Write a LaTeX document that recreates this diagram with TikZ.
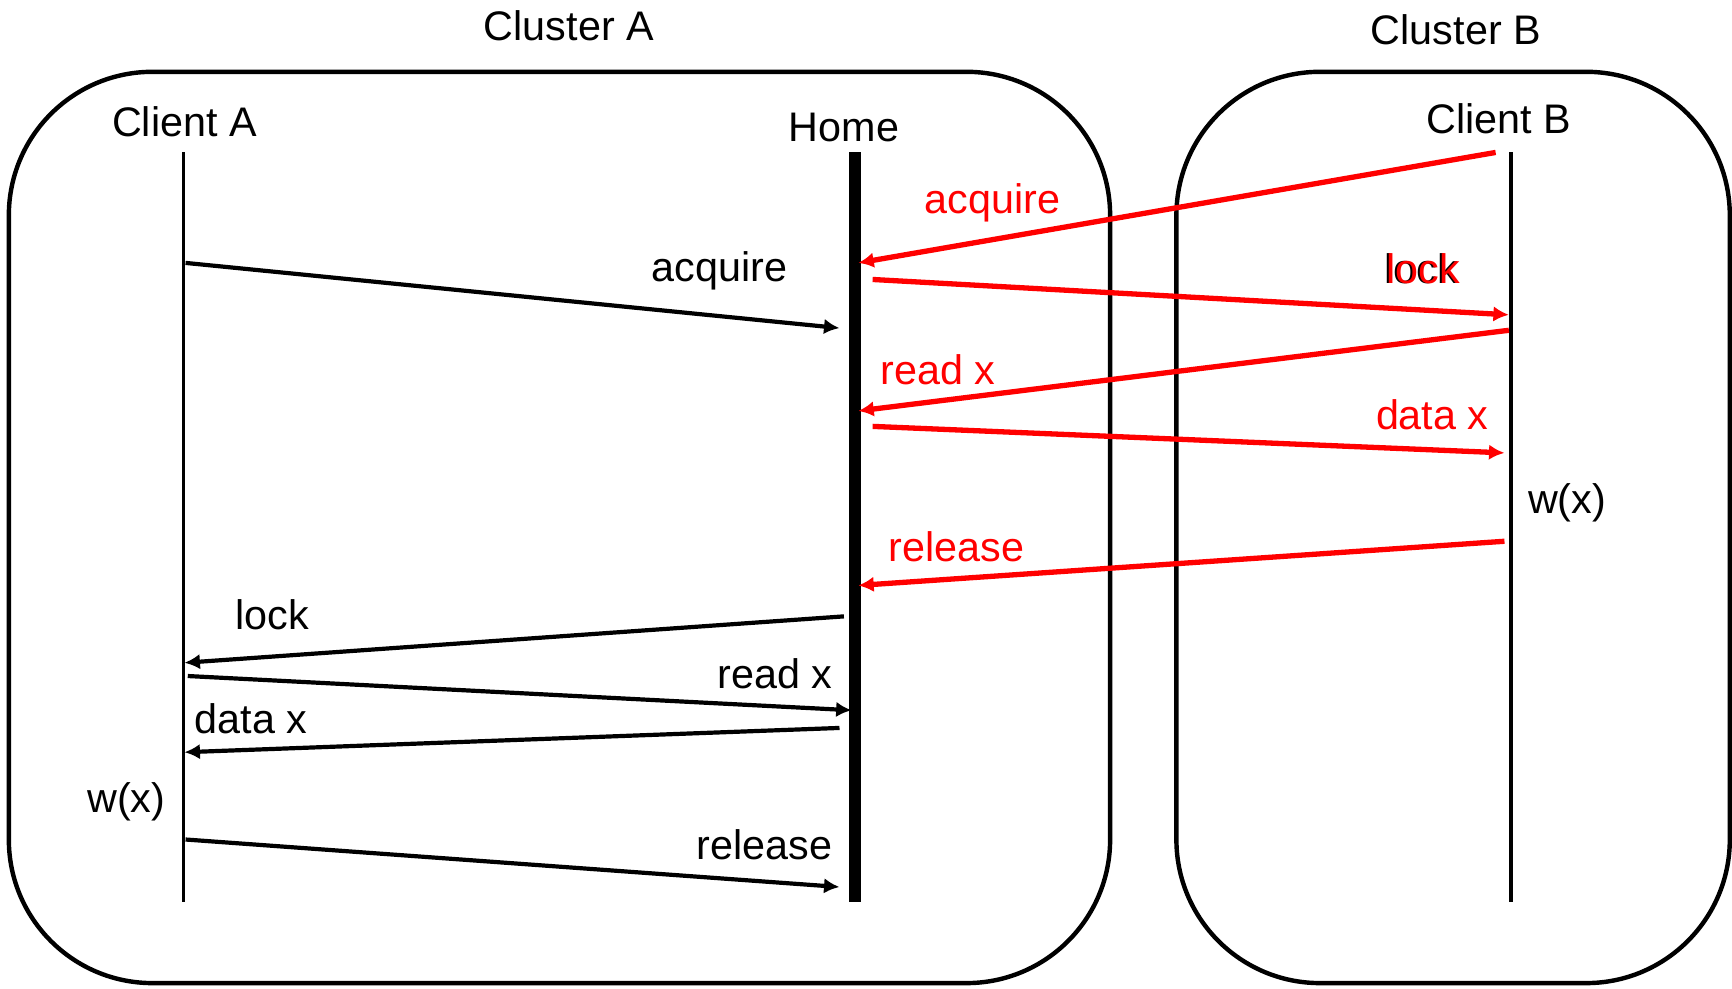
\documentclass[tikz,border=0pt]{standalone}
\usepackage{fontspec}
\setmainfont{Liberation Sans}
\usetikzlibrary{positioning,arrows.meta}

\begin{document}
\begin{tikzpicture}[x=0.5pt, y=-0.5pt, every node/.style={font=\fontsize{18.7}{22}\selectfont, inner sep=0pt}]
\tikzset{
  cluster/.style={draw, line width=2pt, rounded corners=65pt},
  lifeline/.style={line width=1.5pt},
  homeline/.style={line width=5.5pt},
  msg/.style={-{Latex[length=7pt,width=7pt]}, line width=1.9pt},
  redmsg/.style={msg, red, line width=2.4pt},
  redlbl/.style={text=red}
}
\useasboundingbox (0,0) rectangle (1568,895);

% Clusters
\draw[cluster] (8,65) rectangle (1005,890);
\draw[cluster] (1065,65) rectangle (1566,890);
\node[anchor=base] (clA) at (515,37) {Cluster A};
\node[anchor=base] (clB) at (1318,40) {Cluster B};

% Processes
\node[anchor=base] (cliA) at (167,124) {Client A};
\node[anchor=base] (home) at (764,128) {Home};
\node[anchor=base] (cliB) at (1357,121) {Client B};

\coordinate (cliA-top) at (166,138);
\coordinate (cliA-bot) at (166,817);
\coordinate (home-top) at (774,138);
\coordinate (home-bot) at (774,817);
\coordinate (cliB-top) at (1368,138);
\coordinate (cliB-bot) at (1368,817);

\draw[lifeline] (cliA-top) -- (cliA-bot);
\draw[homeline] (home-top) -- (home-bot);
\draw[lifeline] (cliB-top) -- (cliB-bot);

% Client A side
\coordinate (a1) at (168,238);  \coordinate (h1) at (760,297);
\coordinate (h2) at (764,558);  \coordinate (a2) at (167,600);
\coordinate (a3) at (170,612);  \coordinate (h3) at (771,643);
\coordinate (h4) at (760,659);  \coordinate (a4) at (167,681);
\coordinate (a5) at (168,760);  \coordinate (h5) at (760,803);

\draw[msg] (a1) -- (h1);
\draw[msg] (h2) -- (a2);
\draw[msg] (a3) -- (h3);
\draw[msg] (h4) -- (a4);
\draw[msg] (a5) -- (h5);

\node[anchor=base east] (acqA) at (713,255) {acquire};
\node[anchor=base west] (lockA) at (213,570) {lock};
\node[anchor=base east] (readA) at (754,623) {read x};
\node[anchor=base west] (dataA) at (176,664) {data x};
\node[anchor=base east] (wA) at (150,736) {w(x)};
\node[anchor=base east] (relA) at (754,778) {release};

% Client B side
\coordinate (b1) at (1354,138); \coordinate (g1) at (777,238);
\coordinate (g2) at (790,253);  \coordinate (b2) at (1366,285);
\coordinate (b3) at (1366,299); \coordinate (g3) at (777,372);
\coordinate (g4) at (790,386);  \coordinate (b4) at (1362,410);
\coordinate (b5) at (1362,490); \coordinate (g5) at (777,530);

\draw[redmsg] (b1) -- (g1);
\draw[redmsg] (g2) -- (b2);
\draw[redmsg] (b3) -- (g3);
\draw[redmsg] (g4) -- (b4);
\draw[redmsg] (b5) -- (g5);

\node[redlbl, anchor=base west] (acqB) at (837,193) {acquire};
\node[anchor=base east] (lockBs) at (1320.5,257) {lock};
\node[redlbl, anchor=base east] (lockB) at (1322,257) {lock};
\node[redlbl, anchor=base west] (readB) at (797,348) {read x};
\node[redlbl, anchor=base east] (dataB) at (1348,389) {data x};
\node[anchor=base west] (wB) at (1383,465) {w(x)};
\node[redlbl, anchor=base west] (relB) at (804,508) {release};
\end{tikzpicture}
\end{document}
